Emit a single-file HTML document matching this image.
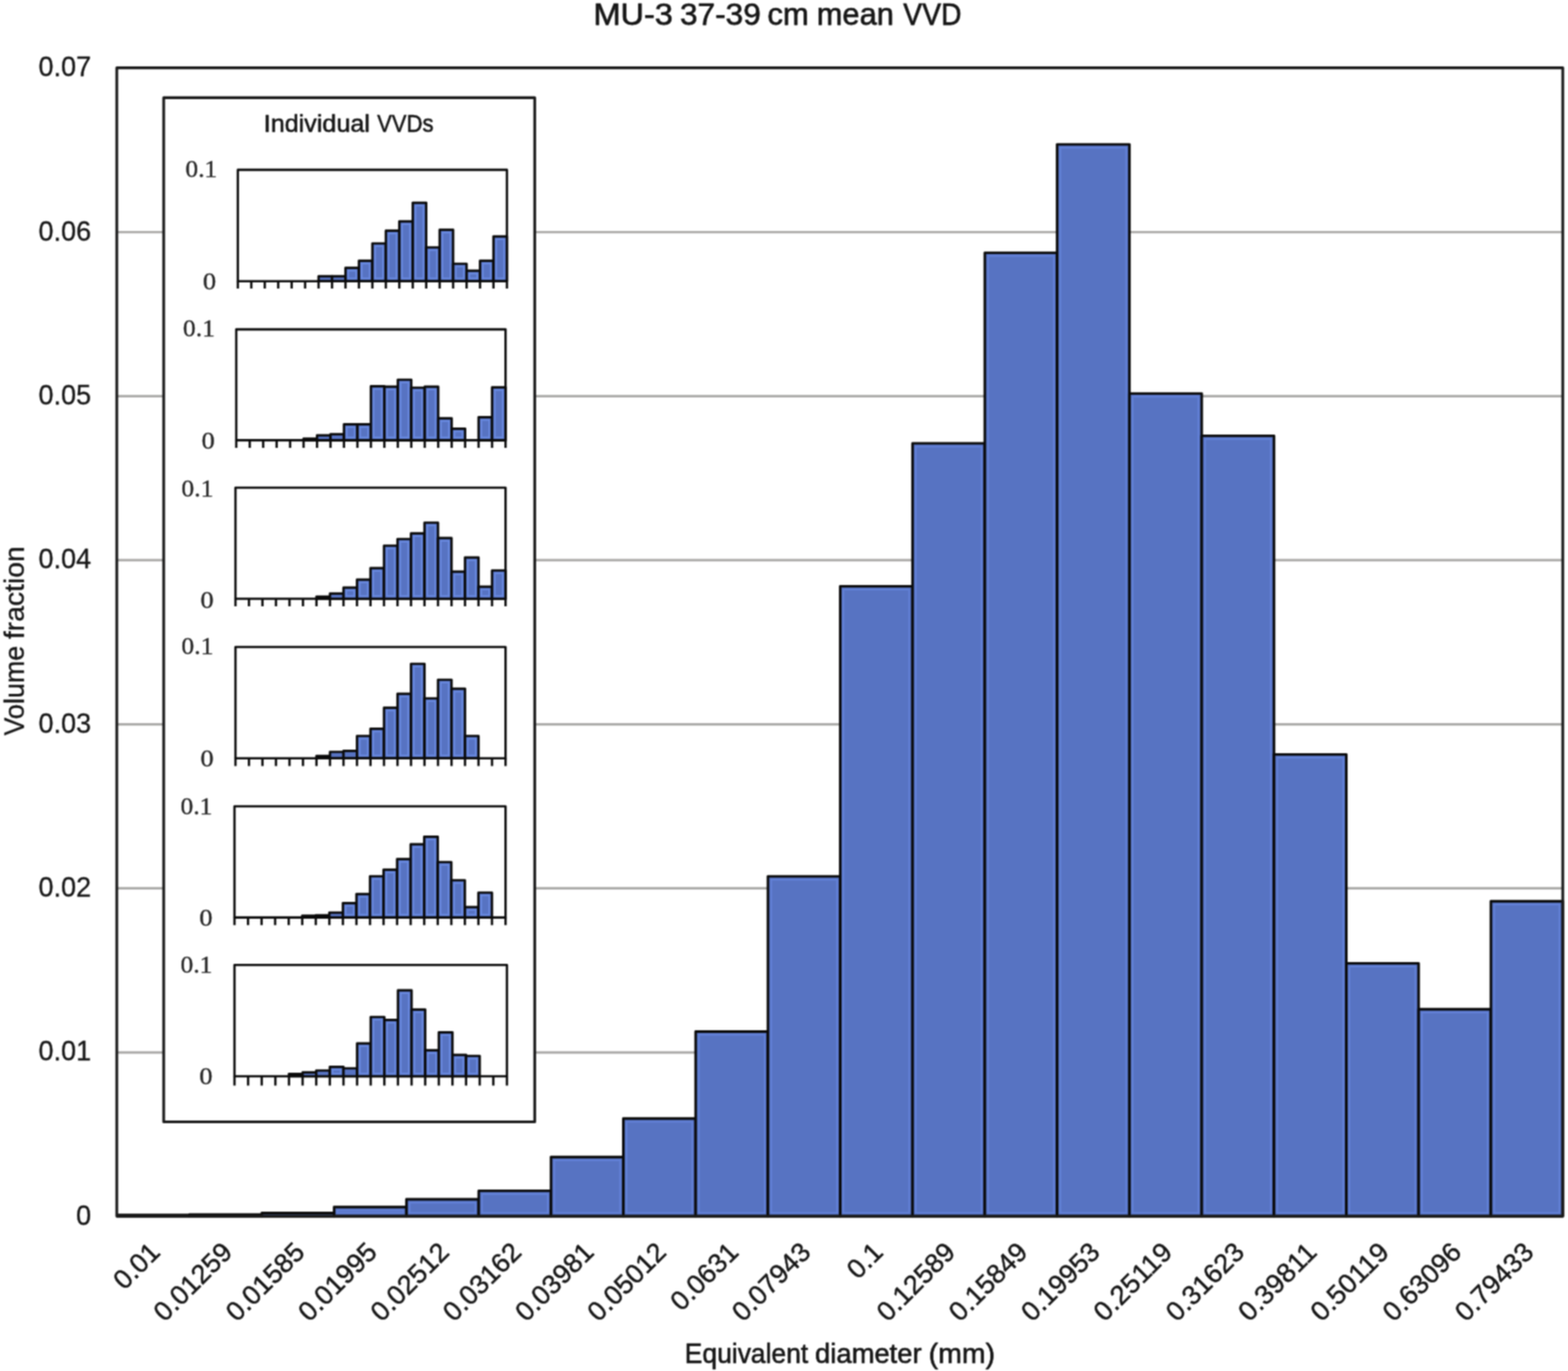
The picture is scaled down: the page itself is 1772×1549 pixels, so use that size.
<!DOCTYPE html>
<html lang="en"><head><meta charset="utf-8"><title>MU-3 37-39 cm mean VVD</title>
<style>
html,body{margin:0;padding:0;background:#fff}
body{width:1772px;height:1549px;overflow:hidden}
svg{display:block}
text{font-family:"Liberation Sans",Arial,sans-serif;fill:#161616;stroke:#161616;stroke-linejoin:round}
.tx{stroke-width:0.15px}
.bar{fill:#5773C2;stroke:#0a0a0a;stroke-width:2.9;stroke-linejoin:round}
.hl{fill:none;stroke:#6686de;stroke-width:1.8;stroke-opacity:.8}
.mbar{fill:#5773C2;stroke:#0a0a0a;stroke-width:2.7;stroke-linejoin:round}
.grid{stroke:#a9a8a6;stroke-width:2.7}
.frame{fill:none;stroke:#1a1a1a;stroke-width:3.1;stroke-linejoin:round}
.inset{fill:#fff;stroke:#1a1a1a;stroke-width:3.1;stroke-linejoin:round}
.mframe{fill:#fff;stroke:#0a0a0a;stroke-width:2.6;stroke-linejoin:round}
.tick{stroke:#0a0a0a;stroke-width:2.6}
.ml{font-family:"Liberation Serif","DejaVu Serif",serif;font-size:28px;fill:#262626;stroke:#262626;stroke-width:0.35px}
</style></head><body>
<svg width="1772" height="1549" viewBox="0 0 1772 1549" role="img" aria-label="MU-3 37-39 cm mean VVD">
<defs><filter id="soft" x="0" y="0" width="1772" height="1549" filterUnits="userSpaceOnUse" color-interpolation-filters="sRGB"><feConvolveMatrix order="3" kernelMatrix="1 2 1 2 4 2 1 2 1" divisor="16" edgeMode="duplicate" preserveAlpha="true"/></filter></defs>
<g filter="url(#soft)">
<rect x="0" y="0" width="1772" height="1549" fill="#fff"/>
<text font-size="34.6" style="stroke-width:0.75px"><tspan x="670.69" y="27.5" textLength="89.7" lengthAdjust="spacingAndGlyphs">MU-3</tspan> <tspan x="768.54" y="27.5" textLength="91.26" lengthAdjust="spacingAndGlyphs">37-39</tspan> <tspan x="867.23" y="27.5" textLength="46.75" lengthAdjust="spacingAndGlyphs">cm</tspan> <tspan x="923" y="27.5" textLength="87.25" lengthAdjust="spacingAndGlyphs">mean</tspan> <tspan x="1020.87" y="27.5" textLength="65.63" lengthAdjust="spacingAndGlyphs">VVD</tspan></text>
<g class="grid">
<line x1="132" y1="1189.04" x2="1766.1" y2="1189.04"/>
<line x1="132" y1="1003.69" x2="1766.1" y2="1003.69"/>
<line x1="132" y1="818.33" x2="1766.1" y2="818.33"/>
<line x1="132" y1="632.97" x2="1766.1" y2="632.97"/>
<line x1="132" y1="447.61" x2="1766.1" y2="447.61"/>
<line x1="132" y1="262.26" x2="1766.1" y2="262.26"/>
</g>
<g class="bar">
<rect x="132.5" y="1372.6" width="81.7" height="1.5"/>
<rect x="214.2" y="1372.3" width="81.7" height="1.8"/>
<rect x="295.91" y="1370.5" width="81.7" height="3.6"/>
<rect x="377.62" y="1363.7" width="81.7" height="10.4"/>
<rect x="459.32" y="1355" width="81.7" height="19.1"/>
<rect x="541.02" y="1345.4" width="81.7" height="28.7"/>
<rect x="622.73" y="1307.2" width="81.7" height="66.9"/>
<rect x="704.43" y="1263.7" width="81.7" height="110.4"/>
<rect x="786.14" y="1165.5" width="81.7" height="208.6"/>
<rect x="867.85" y="990.1" width="81.7" height="384"/>
<rect x="949.55" y="662.4" width="81.7" height="711.7"/>
<rect x="1031.26" y="500.9" width="81.7" height="873.2"/>
<rect x="1112.96" y="285.6" width="81.7" height="1088.5"/>
<rect x="1194.66" y="163.1" width="81.7" height="1211"/>
<rect x="1276.37" y="444.6" width="81.7" height="929.5"/>
<rect x="1358.08" y="492.4" width="81.7" height="881.7"/>
<rect x="1439.78" y="852.4" width="81.7" height="521.7"/>
<rect x="1521.48" y="1088.4" width="81.7" height="285.7"/>
<rect x="1603.19" y="1140.3" width="81.7" height="233.8"/>
<rect x="1684.89" y="1018.2" width="81.2" height="355.9"/>
</g>
<g class="hl">
<rect x="381.31" y="1367.4" width="74.3" height="3"/>
<rect x="463.02" y="1358.7" width="74.3" height="11.7"/>
<rect x="544.73" y="1349.1" width="74.3" height="21.3"/>
<rect x="626.43" y="1310.9" width="74.3" height="59.5"/>
<rect x="708.13" y="1267.4" width="74.3" height="103"/>
<rect x="789.84" y="1169.2" width="74.3" height="201.2"/>
<rect x="871.55" y="993.8" width="74.3" height="376.6"/>
<rect x="953.25" y="666.1" width="74.3" height="704.3"/>
<rect x="1034.96" y="504.6" width="74.3" height="865.8"/>
<rect x="1116.66" y="289.3" width="74.3" height="1081.1"/>
<rect x="1198.37" y="166.8" width="74.3" height="1203.6"/>
<rect x="1280.07" y="448.3" width="74.3" height="922.1"/>
<rect x="1361.78" y="496.1" width="74.3" height="874.3"/>
<rect x="1443.48" y="856.1" width="74.3" height="514.3"/>
<rect x="1525.18" y="1092.1" width="74.3" height="278.3"/>
<rect x="1606.89" y="1144" width="74.3" height="226.4"/>
<rect x="1688.6" y="1021.9" width="73.8" height="348.5"/>
</g>
<rect class="frame" x="132" y="76.6" width="1634.1" height="1297.5"/>
<g font-size="31.8" text-anchor="end" style="stroke-width:0.35px">
<text x="103.0" y="1383.7" textLength="17" lengthAdjust="spacingAndGlyphs">0</text>
<text x="103.0" y="1198.34" textLength="59.5" lengthAdjust="spacingAndGlyphs">0.01</text>
<text x="103.0" y="1012.99" textLength="59.5" lengthAdjust="spacingAndGlyphs">0.02</text>
<text x="103.0" y="827.63" textLength="59.5" lengthAdjust="spacingAndGlyphs">0.03</text>
<text x="103.0" y="642.27" textLength="59.5" lengthAdjust="spacingAndGlyphs">0.04</text>
<text x="103.0" y="456.91" textLength="59.5" lengthAdjust="spacingAndGlyphs">0.05</text>
<text x="103.0" y="271.56" textLength="59.5" lengthAdjust="spacingAndGlyphs">0.06</text>
<text x="103.0" y="86.2" textLength="59.5" lengthAdjust="spacingAndGlyphs">0.07</text>
</g>
<g font-size="30.5" text-anchor="end" style="stroke-width:0.5px">
<text transform="translate(182.55 1416.4) rotate(-45)" x="0" y="0" textLength="59.5" lengthAdjust="spacingAndGlyphs">0.01</text>
<text transform="translate(264.26 1416.4) rotate(-45)" x="0" y="0" textLength="110.5" lengthAdjust="spacingAndGlyphs">0.01259</text>
<text transform="translate(345.96 1416.4) rotate(-45)" x="0" y="0" textLength="110.5" lengthAdjust="spacingAndGlyphs">0.01585</text>
<text transform="translate(427.67 1416.4) rotate(-45)" x="0" y="0" textLength="110.5" lengthAdjust="spacingAndGlyphs">0.01995</text>
<text transform="translate(509.37 1416.4) rotate(-45)" x="0" y="0" textLength="110.5" lengthAdjust="spacingAndGlyphs">0.02512</text>
<text transform="translate(591.08 1416.4) rotate(-45)" x="0" y="0" textLength="110.5" lengthAdjust="spacingAndGlyphs">0.03162</text>
<text transform="translate(672.78 1416.4) rotate(-45)" x="0" y="0" textLength="110.5" lengthAdjust="spacingAndGlyphs">0.03981</text>
<text transform="translate(754.49 1416.4) rotate(-45)" x="0" y="0" textLength="110.5" lengthAdjust="spacingAndGlyphs">0.05012</text>
<text transform="translate(836.19 1416.4) rotate(-45)" x="0" y="0" textLength="93.5" lengthAdjust="spacingAndGlyphs">0.0631</text>
<text transform="translate(917.9 1416.4) rotate(-45)" x="0" y="0" textLength="110.5" lengthAdjust="spacingAndGlyphs">0.07943</text>
<text transform="translate(999.6 1416.4) rotate(-45)" x="0" y="0" textLength="42.5" lengthAdjust="spacingAndGlyphs">0.1</text>
<text transform="translate(1081.31 1416.4) rotate(-45)" x="0" y="0" textLength="110.5" lengthAdjust="spacingAndGlyphs">0.12589</text>
<text transform="translate(1163.01 1416.4) rotate(-45)" x="0" y="0" textLength="110.5" lengthAdjust="spacingAndGlyphs">0.15849</text>
<text transform="translate(1244.72 1416.4) rotate(-45)" x="0" y="0" textLength="110.5" lengthAdjust="spacingAndGlyphs">0.19953</text>
<text transform="translate(1326.42 1416.4) rotate(-45)" x="0" y="0" textLength="110.5" lengthAdjust="spacingAndGlyphs">0.25119</text>
<text transform="translate(1408.13 1416.4) rotate(-45)" x="0" y="0" textLength="110.5" lengthAdjust="spacingAndGlyphs">0.31623</text>
<text transform="translate(1489.83 1416.4) rotate(-45)" x="0" y="0" textLength="110.5" lengthAdjust="spacingAndGlyphs">0.39811</text>
<text transform="translate(1571.54 1416.4) rotate(-45)" x="0" y="0" textLength="110.5" lengthAdjust="spacingAndGlyphs">0.50119</text>
<text transform="translate(1653.24 1416.4) rotate(-45)" x="0" y="0" textLength="110.5" lengthAdjust="spacingAndGlyphs">0.63096</text>
<text transform="translate(1734.95 1416.4) rotate(-45)" x="0" y="0" textLength="110.5" lengthAdjust="spacingAndGlyphs">0.79433</text>
</g>
<text font-size="32" style="stroke-width:0.7px"><tspan x="773.85" y="1540" textLength="139.56" lengthAdjust="spacingAndGlyphs">Equivalent</tspan> <tspan x="921.1" y="1540" textLength="120.38" lengthAdjust="spacingAndGlyphs">diameter</tspan> <tspan x="1049.51" y="1540" textLength="74.99" lengthAdjust="spacingAndGlyphs">(mm)</tspan></text>
<text font-size="31.2" style="stroke-width:0.4px" transform="translate(27.3 0) rotate(-90)"><tspan x="-831.02" y="0" textLength="101.48" lengthAdjust="spacingAndGlyphs">Volume</tspan> <tspan x="-722.05" y="0" textLength="104.8" lengthAdjust="spacingAndGlyphs">fraction</tspan></text>
<rect class="inset" x="185" y="110.4" width="419.3" height="1157.1"/>
<text font-size="27" style="stroke-width:0.6px"><tspan x="298.09" y="148.6" textLength="119.99" lengthAdjust="spacingAndGlyphs">Individual</tspan> <tspan x="426.2" y="148.6" textLength="63.8" lengthAdjust="spacingAndGlyphs">VVDs</tspan></text>
<g>
<rect class="mframe" x="268.8" y="191.9" width="304.1" height="125.8"/>
<g class="mbar">
<rect x="360.03" y="312.2" width="15.2" height="5.5"/>
<rect x="375.24" y="312.2" width="15.2" height="5.5"/>
<rect x="390.44" y="302.7" width="15.2" height="15"/>
<rect x="405.64" y="294.6" width="15.2" height="23.1"/>
<rect x="420.85" y="275" width="15.2" height="42.7"/>
<rect x="436.06" y="260.7" width="15.2" height="57"/>
<rect x="451.26" y="250.1" width="15.2" height="67.6"/>
<rect x="466.46" y="229.1" width="15.2" height="88.6"/>
<rect x="481.67" y="279.5" width="15.2" height="38.2"/>
<rect x="496.88" y="259.6" width="15.2" height="58.1"/>
<rect x="512.08" y="298" width="15.2" height="19.7"/>
<rect x="527.28" y="305.9" width="15.2" height="11.8"/>
<rect x="542.49" y="294.6" width="15.2" height="23.1"/>
<rect x="557.69" y="267.1" width="15.2" height="50.6"/>
</g>
<g class="hl" style="stroke-width:1.9;stroke-opacity:.95;stroke:#6a8be3">
<rect x="393.54" y="305.8" width="9" height="8.8"/>
<rect x="408.75" y="297.7" width="9" height="16.9"/>
<rect x="423.95" y="278.1" width="9" height="36.5"/>
<rect x="439.16" y="263.8" width="9" height="50.8"/>
<rect x="454.36" y="253.2" width="9" height="61.4"/>
<rect x="469.56" y="232.2" width="9" height="82.4"/>
<rect x="484.77" y="282.6" width="9" height="32"/>
<rect x="499.98" y="262.7" width="9" height="51.9"/>
<rect x="515.18" y="301.1" width="9" height="13.5"/>
<rect x="530.38" y="309" width="9" height="5.6"/>
<rect x="545.59" y="297.7" width="9" height="16.9"/>
<rect x="560.79" y="270.2" width="9" height="44.4"/>
</g>
<path class="tick" fill="none" d="M268.8 317.7 V326 M284 317.7 V326 M299.21 317.7 V326 M314.42 317.7 V326 M329.62 317.7 V326 M344.82 317.7 V326 M360.03 317.7 V326 M375.24 317.7 V326 M390.44 317.7 V326 M405.64 317.7 V326 M420.85 317.7 V326 M436.06 317.7 V326 M451.26 317.7 V326 M466.46 317.7 V326 M481.67 317.7 V326 M496.88 317.7 V326 M512.08 317.7 V326 M527.28 317.7 V326 M542.49 317.7 V326 M557.69 317.7 V326 M572.9 317.7 V326"/>
<text class="ml" x="245.5" y="199.9" text-anchor="end" textLength="36" lengthAdjust="spacingAndGlyphs">0.1</text>
<text class="ml" x="244.2" y="326.5" text-anchor="end" textLength="15" lengthAdjust="spacingAndGlyphs">0</text>
</g>
<g>
<rect class="mframe" x="267" y="372.1" width="304.3" height="125.3"/>
<g class="mbar">
<rect x="343.07" y="495.6" width="15.21" height="1.8"/>
<rect x="358.29" y="491.8" width="15.21" height="5.6"/>
<rect x="373.5" y="490.6" width="15.21" height="6.8"/>
<rect x="388.72" y="479.4" width="15.21" height="18"/>
<rect x="403.93" y="479.4" width="15.21" height="18"/>
<rect x="419.15" y="436.4" width="15.21" height="61"/>
<rect x="434.37" y="436.9" width="15.21" height="60.5"/>
<rect x="449.58" y="429" width="15.21" height="68.4"/>
<rect x="464.79" y="438" width="15.21" height="59.4"/>
<rect x="480.01" y="436.9" width="15.21" height="60.5"/>
<rect x="495.22" y="472.6" width="15.21" height="24.8"/>
<rect x="510.44" y="484.3" width="15.21" height="13.1"/>
<rect x="540.87" y="471.4" width="15.21" height="26"/>
<rect x="556.09" y="437.6" width="15.21" height="59.8"/>
</g>
<g class="hl" style="stroke-width:1.9;stroke-opacity:.95;stroke:#6a8be3">
<rect x="391.82" y="482.5" width="9.01" height="11.8"/>
<rect x="407.03" y="482.5" width="9.01" height="11.8"/>
<rect x="422.25" y="439.5" width="9.01" height="54.8"/>
<rect x="437.47" y="440" width="9.01" height="54.3"/>
<rect x="452.68" y="432.1" width="9.01" height="62.2"/>
<rect x="467.89" y="441.1" width="9.01" height="53.2"/>
<rect x="483.11" y="440" width="9.01" height="54.3"/>
<rect x="498.32" y="475.7" width="9.01" height="18.6"/>
<rect x="513.54" y="487.4" width="9.01" height="6.9"/>
<rect x="543.97" y="474.5" width="9.01" height="19.8"/>
<rect x="559.19" y="440.7" width="9.01" height="53.6"/>
</g>
<path class="tick" fill="none" d="M267 497.4 V505.9 M282.21 497.4 V505.9 M297.43 497.4 V505.9 M312.64 497.4 V505.9 M327.86 497.4 V505.9 M343.07 497.4 V505.9 M358.29 497.4 V505.9 M373.5 497.4 V505.9 M388.72 497.4 V505.9 M403.93 497.4 V505.9 M419.15 497.4 V505.9 M434.37 497.4 V505.9 M449.58 497.4 V505.9 M464.79 497.4 V505.9 M480.01 497.4 V505.9 M495.22 497.4 V505.9 M510.44 497.4 V505.9 M525.65 497.4 V505.9 M540.87 497.4 V505.9 M556.09 497.4 V505.9 M571.3 497.4 V505.9"/>
<text class="ml" x="242.8" y="380.4" text-anchor="end" textLength="36" lengthAdjust="spacingAndGlyphs">0.1</text>
<text class="ml" x="242.8" y="506.5" text-anchor="end" textLength="15" lengthAdjust="spacingAndGlyphs">0</text>
</g>
<g>
<rect class="mframe" x="266.1" y="551" width="305.2" height="125.5"/>
<g class="mbar">
<rect x="357.66" y="674" width="15.26" height="2.5"/>
<rect x="372.92" y="670.7" width="15.26" height="5.8"/>
<rect x="388.18" y="663.9" width="15.26" height="12.6"/>
<rect x="403.44" y="654.9" width="15.26" height="21.6"/>
<rect x="418.7" y="641.8" width="15.26" height="34.7"/>
<rect x="433.96" y="616.5" width="15.26" height="60"/>
<rect x="449.22" y="609" width="15.26" height="67.5"/>
<rect x="464.48" y="602.7" width="15.26" height="73.8"/>
<rect x="479.74" y="590.5" width="15.26" height="86"/>
<rect x="495" y="607.9" width="15.26" height="68.6"/>
<rect x="510.26" y="645.8" width="15.26" height="30.7"/>
<rect x="525.52" y="629.8" width="15.26" height="46.7"/>
<rect x="540.78" y="662.8" width="15.26" height="13.7"/>
<rect x="556.04" y="644.5" width="15.26" height="32"/>
</g>
<g class="hl" style="stroke-width:1.9;stroke-opacity:.95;stroke:#6a8be3">
<rect x="391.28" y="667" width="9.06" height="6.4"/>
<rect x="406.54" y="658" width="9.06" height="15.4"/>
<rect x="421.8" y="644.9" width="9.06" height="28.5"/>
<rect x="437.06" y="619.6" width="9.06" height="53.8"/>
<rect x="452.32" y="612.1" width="9.06" height="61.3"/>
<rect x="467.58" y="605.8" width="9.06" height="67.6"/>
<rect x="482.84" y="593.6" width="9.06" height="79.8"/>
<rect x="498.1" y="611" width="9.06" height="62.4"/>
<rect x="513.36" y="648.9" width="9.06" height="24.5"/>
<rect x="528.62" y="632.9" width="9.06" height="40.5"/>
<rect x="543.88" y="665.9" width="9.06" height="7.5"/>
<rect x="559.14" y="647.6" width="9.06" height="25.8"/>
</g>
<path class="tick" fill="none" d="M266.1 676.5 V685.1 M281.36 676.5 V685.1 M296.62 676.5 V685.1 M311.88 676.5 V685.1 M327.14 676.5 V685.1 M342.4 676.5 V685.1 M357.66 676.5 V685.1 M372.92 676.5 V685.1 M388.18 676.5 V685.1 M403.44 676.5 V685.1 M418.7 676.5 V685.1 M433.96 676.5 V685.1 M449.22 676.5 V685.1 M464.48 676.5 V685.1 M479.74 676.5 V685.1 M495 676.5 V685.1 M510.26 676.5 V685.1 M525.52 676.5 V685.1 M540.78 676.5 V685.1 M556.04 676.5 V685.1 M571.3 676.5 V685.1"/>
<text class="ml" x="241.1" y="560.7" text-anchor="end" textLength="36" lengthAdjust="spacingAndGlyphs">0.1</text>
<text class="ml" x="241.5" y="686.7" text-anchor="end" textLength="15" lengthAdjust="spacingAndGlyphs">0</text>
</g>
<g>
<rect class="mframe" x="266.1" y="731" width="305.2" height="125.7"/>
<g class="mbar">
<rect x="357.66" y="854" width="15.26" height="2.7"/>
<rect x="372.92" y="849.5" width="15.26" height="7.2"/>
<rect x="388.18" y="848.4" width="15.26" height="8.3"/>
<rect x="403.44" y="831.5" width="15.26" height="25.2"/>
<rect x="418.7" y="823.3" width="15.26" height="33.4"/>
<rect x="433.96" y="799.6" width="15.26" height="57.1"/>
<rect x="449.22" y="783.8" width="15.26" height="72.9"/>
<rect x="464.48" y="750" width="15.26" height="106.7"/>
<rect x="479.74" y="789" width="15.26" height="67.7"/>
<rect x="495" y="768" width="15.26" height="88.7"/>
<rect x="510.26" y="778.2" width="15.26" height="78.5"/>
<rect x="525.52" y="831.5" width="15.26" height="25.2"/>
</g>
<g class="hl" style="stroke-width:1.9;stroke-opacity:.95;stroke:#6a8be3">
<rect x="406.54" y="834.6" width="9.06" height="19"/>
<rect x="421.8" y="826.4" width="9.06" height="27.2"/>
<rect x="437.06" y="802.7" width="9.06" height="50.9"/>
<rect x="452.32" y="786.9" width="9.06" height="66.7"/>
<rect x="467.58" y="753.1" width="9.06" height="100.5"/>
<rect x="482.84" y="792.1" width="9.06" height="61.5"/>
<rect x="498.1" y="771.1" width="9.06" height="82.5"/>
<rect x="513.36" y="781.3" width="9.06" height="72.3"/>
<rect x="528.62" y="834.6" width="9.06" height="19"/>
</g>
<path class="tick" fill="none" d="M266.1 856.7 V865.4 M281.36 856.7 V865.4 M296.62 856.7 V865.4 M311.88 856.7 V865.4 M327.14 856.7 V865.4 M342.4 856.7 V865.4 M357.66 856.7 V865.4 M372.92 856.7 V865.4 M388.18 856.7 V865.4 M403.44 856.7 V865.4 M418.7 856.7 V865.4 M433.96 856.7 V865.4 M449.22 856.7 V865.4 M464.48 856.7 V865.4 M479.74 856.7 V865.4 M495 856.7 V865.4 M510.26 856.7 V865.4 M525.52 856.7 V865.4 M540.78 856.7 V865.4 M556.04 856.7 V865.4 M571.3 856.7 V865.4"/>
<text class="ml" x="241.1" y="739.2" text-anchor="end" textLength="36" lengthAdjust="spacingAndGlyphs">0.1</text>
<text class="ml" x="241.5" y="866" text-anchor="end" textLength="15" lengthAdjust="spacingAndGlyphs">0</text>
</g>
<g>
<rect class="mframe" x="265" y="911" width="306.3" height="125.6"/>
<g class="mbar">
<rect x="341.57" y="1034.5" width="15.31" height="2.1"/>
<rect x="356.89" y="1034" width="15.31" height="2.6"/>
<rect x="372.2" y="1031.1" width="15.31" height="5.5"/>
<rect x="387.52" y="1020.3" width="15.31" height="16.3"/>
<rect x="402.83" y="1010.1" width="15.31" height="26.5"/>
<rect x="418.15" y="990" width="15.31" height="46.6"/>
<rect x="433.46" y="982.6" width="15.31" height="54"/>
<rect x="448.78" y="970.6" width="15.31" height="66"/>
<rect x="464.09" y="953.9" width="15.31" height="82.7"/>
<rect x="479.41" y="945.3" width="15.31" height="91.3"/>
<rect x="494.72" y="974" width="15.31" height="62.6"/>
<rect x="510.04" y="994.5" width="15.31" height="42.1"/>
<rect x="525.36" y="1024.8" width="15.31" height="11.8"/>
<rect x="540.67" y="1008.5" width="15.31" height="28.1"/>
</g>
<g class="hl" style="stroke-width:1.9;stroke-opacity:.95;stroke:#6a8be3">
<rect x="390.62" y="1023.4" width="9.11" height="10.1"/>
<rect x="405.94" y="1013.2" width="9.11" height="20.3"/>
<rect x="421.25" y="993.1" width="9.11" height="40.4"/>
<rect x="436.56" y="985.7" width="9.11" height="47.8"/>
<rect x="451.88" y="973.7" width="9.11" height="59.8"/>
<rect x="467.19" y="957" width="9.11" height="76.5"/>
<rect x="482.51" y="948.4" width="9.11" height="85.1"/>
<rect x="497.82" y="977.1" width="9.11" height="56.4"/>
<rect x="513.14" y="997.6" width="9.11" height="35.9"/>
<rect x="528.46" y="1027.9" width="9.11" height="5.6"/>
<rect x="543.77" y="1011.6" width="9.11" height="21.9"/>
</g>
<path class="tick" fill="none" d="M265 1036.6 V1045.3 M280.31 1036.6 V1045.3 M295.63 1036.6 V1045.3 M310.94 1036.6 V1045.3 M326.26 1036.6 V1045.3 M341.57 1036.6 V1045.3 M356.89 1036.6 V1045.3 M372.2 1036.6 V1045.3 M387.52 1036.6 V1045.3 M402.83 1036.6 V1045.3 M418.15 1036.6 V1045.3 M433.46 1036.6 V1045.3 M448.78 1036.6 V1045.3 M464.09 1036.6 V1045.3 M479.41 1036.6 V1045.3 M494.72 1036.6 V1045.3 M510.04 1036.6 V1045.3 M525.36 1036.6 V1045.3 M540.67 1036.6 V1045.3 M555.98 1036.6 V1045.3 M571.3 1036.6 V1045.3"/>
<text class="ml" x="240" y="919.7" text-anchor="end" textLength="36" lengthAdjust="spacingAndGlyphs">0.1</text>
<text class="ml" x="240.2" y="1046.1" text-anchor="end" textLength="15" lengthAdjust="spacingAndGlyphs">0</text>
</g>
<g>
<rect class="mframe" x="265" y="1090.3" width="307.9" height="125.7"/>
<g class="mbar">
<rect x="326.58" y="1213.3" width="15.39" height="2.7"/>
<rect x="341.98" y="1211.7" width="15.39" height="4.3"/>
<rect x="357.37" y="1209.5" width="15.39" height="6.5"/>
<rect x="372.76" y="1205.4" width="15.39" height="10.6"/>
<rect x="388.16" y="1207" width="15.39" height="9"/>
<rect x="403.56" y="1178.8" width="15.39" height="37.2"/>
<rect x="418.95" y="1149" width="15.39" height="67"/>
<rect x="434.35" y="1152.3" width="15.39" height="63.7"/>
<rect x="449.74" y="1118.9" width="15.39" height="97.1"/>
<rect x="465.13" y="1140.6" width="15.39" height="75.4"/>
<rect x="480.53" y="1186.7" width="15.39" height="29.3"/>
<rect x="495.92" y="1166.3" width="15.39" height="49.7"/>
<rect x="511.32" y="1191.8" width="15.39" height="24.2"/>
<rect x="526.71" y="1193" width="15.39" height="23"/>
</g>
<g class="hl" style="stroke-width:1.9;stroke-opacity:.95;stroke:#6a8be3">
<rect x="375.87" y="1208.5" width="9.2" height="4.4"/>
<rect x="406.66" y="1181.9" width="9.2" height="31"/>
<rect x="422.05" y="1152.1" width="9.2" height="60.8"/>
<rect x="437.45" y="1155.4" width="9.2" height="57.5"/>
<rect x="452.84" y="1122" width="9.2" height="90.9"/>
<rect x="468.24" y="1143.7" width="9.2" height="69.2"/>
<rect x="483.63" y="1189.8" width="9.2" height="23.1"/>
<rect x="499.02" y="1169.4" width="9.2" height="43.5"/>
<rect x="514.42" y="1194.9" width="9.2" height="18"/>
<rect x="529.81" y="1196.1" width="9.2" height="16.8"/>
</g>
<path class="tick" fill="none" d="M265 1216 V1226.4 M280.39 1216 V1226.4 M295.79 1216 V1226.4 M311.19 1216 V1226.4 M326.58 1216 V1226.4 M341.98 1216 V1226.4 M357.37 1216 V1226.4 M372.76 1216 V1226.4 M388.16 1216 V1226.4 M403.56 1216 V1226.4 M418.95 1216 V1226.4 M434.35 1216 V1226.4 M449.74 1216 V1226.4 M465.13 1216 V1226.4 M480.53 1216 V1226.4 M495.92 1216 V1226.4 M511.32 1216 V1226.4 M526.71 1216 V1226.4 M542.11 1216 V1226.4 M557.5 1216 V1226.4 M572.9 1216 V1226.4"/>
<text class="ml" x="240" y="1098.8" text-anchor="end" textLength="36" lengthAdjust="spacingAndGlyphs">0.1</text>
<text class="ml" x="240.2" y="1225" text-anchor="end" textLength="15" lengthAdjust="spacingAndGlyphs">0</text>
</g>
</g>
</svg>
</body></html>
